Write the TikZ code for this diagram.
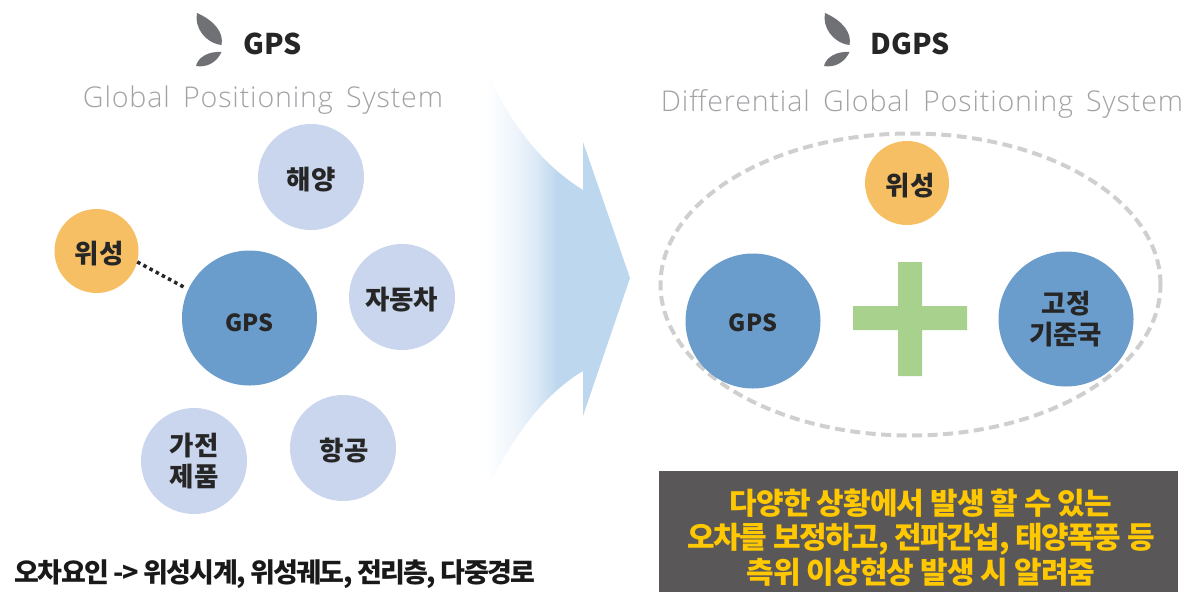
\documentclass[tikz,border=0pt]{standalone}
\usepackage{fontspec}
\setmainfont{Noto Sans}
\newfontfamily\krbase{Noto Sans CJK KR}
\newcommand{\krb}{\krbase\bfseries}
\newfontfamily\lat[LetterSpace=3,WordSpace=1.6]{Open Sans Light}
\usetikzlibrary{shapes.geometric}
\definecolor{satfill}{HTML}{F7BF63}
\definecolor{gpsfill}{HTML}{6A9DCB}
\definecolor{appfill}{HTML}{CAD6EE}
\definecolor{plusfill}{HTML}{A9D18E}
\definecolor{arrowfill}{HTML}{BDD7EE}
\definecolor{leaf}{HTML}{707175}
\definecolor{subgray}{HTML}{A0A2A5}
\definecolor{boxfill}{HTML}{595757}
\definecolor{boxtext}{HTML}{FFC800}
\definecolor{ringgray}{HTML}{CFCFCF}
\pgfdeclarehorizontalshading{arrowshade}{100bp}{color(0bp)=(white); color(28bp)=(white); color(37.5bp)=(arrowfill!25); color(44bp)=(arrowfill!50); color(51.5bp)=(arrowfill); color(100bp)=(arrowfill)}
\tikzset{
 disc/.style={circle,inner sep=0pt,align=center,text=black!85,font=\krb\fontsize{26.5}{30.5}\selectfont},
 satdisc/.style={disc,fill=satfill,minimum size=84pt},
 bigdisc/.style={disc,fill=gpsfill,minimum size=135pt},
 appdisc/.style={disc,fill=appfill,minimum size=106pt},
 heading/.style={font=\krb\fontsize{28.5}{34}\selectfont,text=black!85},
 subheading/.style={font=\lat\fontsize{28.6}{34}\selectfont,text=subgray},
 leafshape/.style={fill=leaf,draw=none},
 noteline/.style={font=\krb\fontsize{30}{34.7}\selectfont,text=boxtext,align=center}
}
\newcommand{\leafmark}[2]{%
 \fill[leafshape,shift={(#1,#2)}] (0,0) .. controls (18,8) and (27,20) .. (24.5,32) .. controls (8,30) and (-3,14) .. (0,0) -- cycle;
 \fill[leafshape,shift={(#1,#2)}] (24.5,39) .. controls (12,38) and (1,44) .. (-1,53) .. controls (10,55) and (20,49) .. (24.5,39) -- cycle;
}
\newcommand{\latinlabel}[2]{\fontsize{23.5}{28}\selectfont\rule{0pt}{#1}#2}
\newcommand{\kl}[1]{\rule{0pt}{27.5pt}#1}
\begin{document}
\begin{tikzpicture}[x=1pt,y=-1pt]
\useasboundingbox (0,0) rectangle (1186,592);
% arrow
\shade[shading=arrowshade] (476,50) .. controls (505,115) and (535,160) .. (583,190) -- (583,142) -- (630,278) -- (583,416) -- (583,371) .. controls (535,400) and (505,450) .. (476,512) -- cycle;
% left title
\leafmark{197}{13}
\node[heading,anchor=west] (t1) at (240,44) {GPS};
\node[subheading] (s1) at (263,100) {Global Positioning System};
% left discs
\node[appdisc] (sea) at (311,177) {\kl{해양}};
\node[satdisc] (sat1) at (96.5,251) {\kl{\hspace*{5pt}위성}};
\node[bigdisc] (gps1) at (249.5,318) {\latinlabel{27pt}{GPS}};
\node[appdisc] (car) at (402,297) {\kl{\addfontfeature{LetterSpace=-1}자동차}};
\node[appdisc] (air) at (343,448) {\kl{\hspace*{2pt}항공}};
\node[appdisc] (home) at (194,461) {가전\\제품};
\draw[line width=3.5pt,dash pattern=on 3.5pt off 3.5pt,black!85,shorten >=4pt] (sat1.-15) -- (gps1.155);
% footer
\node[font=\krb\fontsize{27}{30}\selectfont,text=black!90,anchor=west] (foot) at (11,574) {\addfontfeature{LetterSpace=-6}오차요인 -> 위성시계, 위성궤도, 전리층, 다중경로};
% right title
\leafmark{825}{13}
\node[heading,anchor=west] (t2) at (867,44) {DGPS};
\node[subheading] (s2) at (922,104) {Differential Global Positioning System};
% right group
\node[ellipse,draw=ringgray,line width=4pt,dash pattern=on 10pt off 5.5pt,minimum width=500pt,minimum height=302pt,inner sep=0pt] (ring) at (910.5,284.5) {};
\node[satdisc] (sat2) at (907,183) {\kl{\hspace*{6pt}위성}};
\node[bigdisc] (gps2) at (753,321) {\latinlabel{21pt}{GPS}};
\node[bigdisc] (base) at (1066,319) {고정\\\addfontfeature{LetterSpace=-1}기준국};
\fill[plusfill] (853,306) -- (898,306) -- (898,262) -- (922,262) -- (922,306) -- (967,306) -- (967,330) -- (922,330) -- (922,376) -- (898,376) -- (898,330) -- (853,330) -- cycle;
% note
\node[rectangle,fill=boxfill,inner sep=0pt,minimum width=519pt,minimum height=121pt] (notebox) at (918.5,531.5) {};
\node[noteline] (note) at (921,537.5) {\addfontfeature{LetterSpace=-3}다양한 상황에서 발생 할 수 있는\\\addfontfeature{LetterSpace=-4.5}오차를 보정하고, 전파간섭, 태양폭풍 등\\\addfontfeature{LetterSpace=-3}측위 이상현상 발생 시 알려줌};
\end{tikzpicture}
\end{document}
